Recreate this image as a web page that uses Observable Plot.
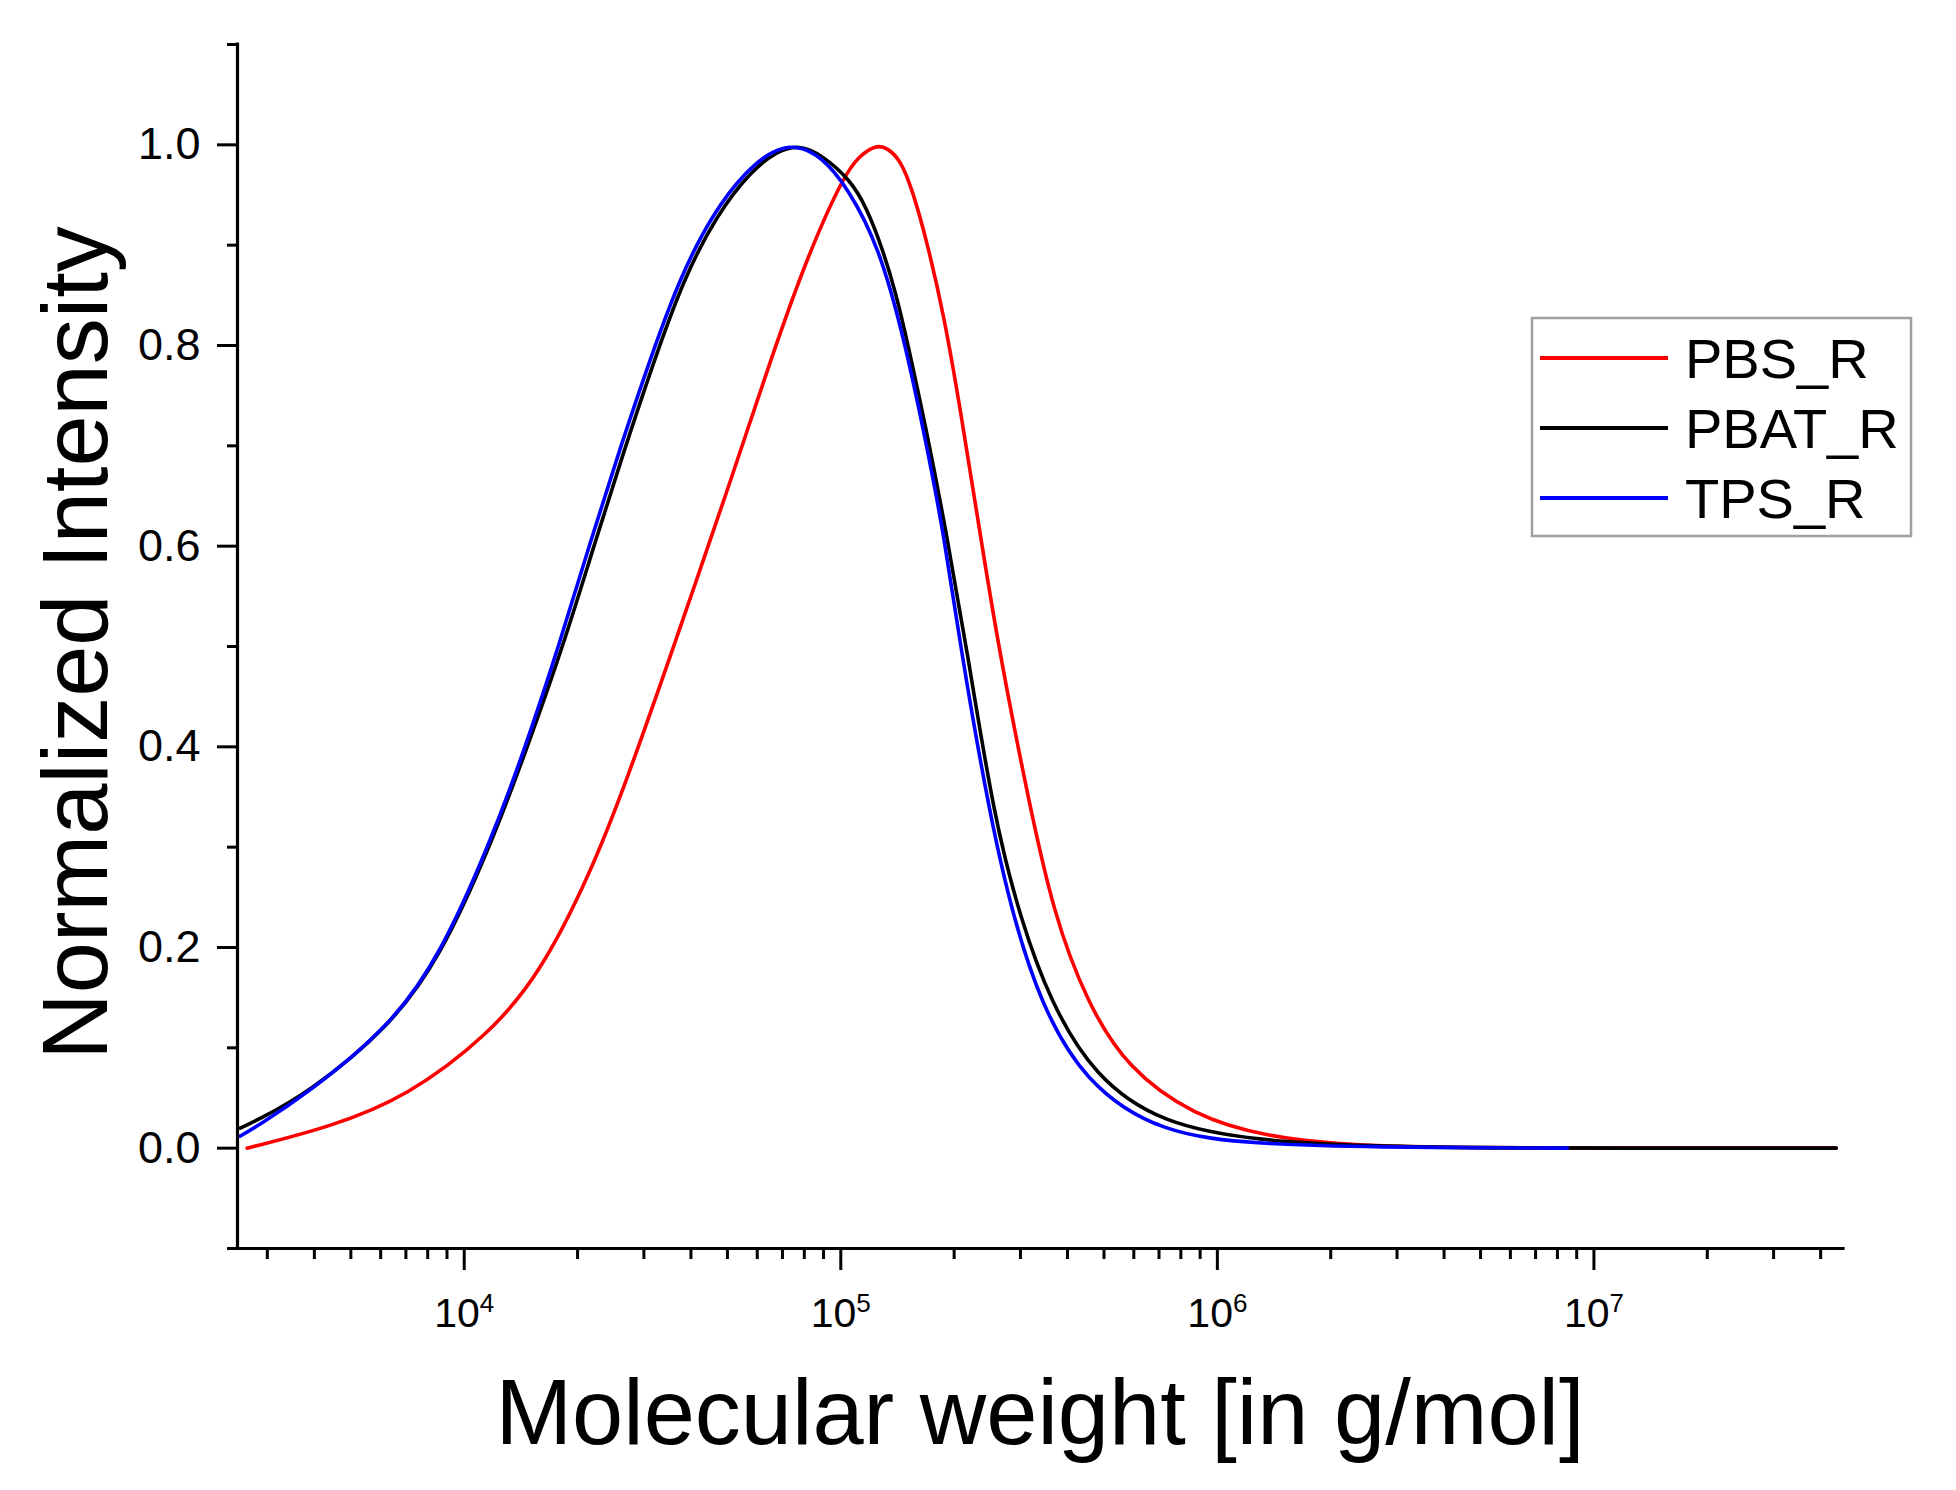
<!DOCTYPE html>
<html>
<head>
<meta charset="utf-8">
<script src="https://cdn.jsdelivr.net/npm/d3@7"></script>
<script src="https://cdn.jsdelivr.net/npm/@observablehq/plot@0.6"></script>
<style>
  html, body { margin: 0; padding: 0; background: #fff; }
  #chart svg { display: block; }
</style>
</head>
<body>
<div id="chart"></div>
<script>
// Molecular weight distributions (g/mol) and normalized GPC intensity
const seriesNames = ["PBS_R", "PBAT_R", "TPS_R"];
const seriesColors = ["#ff0000", "#000000", "#0000ff"];

const pbsMw = [2650, 4400, 7050, 11700, 15900, 21600, 27000, 36000, 51000, 65000, 81300,
  102000, 112000, 124000, 133000, 144000, 155000, 169000, 188000, 208000, 230000, 261000,
  313000, 368000, 451000, 575000, 865000, 1.36e6, 2.24e6, 3.98e6, 4.4e7];
const pbsVal = [0.000, 0.021, 0.051, 0.114, 0.174, 0.273, 0.366, 0.500, 0.665, 0.785, 0.888,
  0.970, 0.989, 1.000, 0.997, 0.985, 0.955, 0.905, 0.830, 0.735, 0.632, 0.503,
  0.352, 0.232, 0.145, 0.080, 0.032, 0.011, 0.003, 0.000, 0.000];

const pbatMw = [2540, 2820, 3820, 6350, 8630, 11700, 14400, 18300, 22000, 26400, 31800, 38200,
  46800, 57500, 67600, 77600, 89100, 106000, 117000, 130000, 140000, 150000, 169000, 191000,
  216000, 255000, 300000, 361000, 470000, 708000, 1.30e6, 2.51e6, 5.01e6, 4.4e7];
const pbatVal = [0.020, 0.028, 0.054, 0.121, 0.190, 0.300, 0.390, 0.500, 0.598, 0.692, 0.783, 0.866,
  0.930, 0.973, 0.994, 1.000, 0.990, 0.965, 0.938, 0.893, 0.852, 0.805, 0.715, 0.612,
  0.498, 0.330, 0.228, 0.145, 0.072, 0.024, 0.007, 0.002, 0.000, 0.000];

const tpsMw = [2540, 2820, 3820, 6350, 8630, 11700, 14400, 18000, 21600, 25900, 31200, 37500,
  45900, 56400, 66100, 76600, 89100, 104000, 126000, 147000, 166000, 188000, 208000, 249000,
  288000, 339000, 442000, 708000, 1.30e6, 2.51e6, 8.5e6];
const tpsVal = [0.012, 0.022, 0.054, 0.121, 0.192, 0.304, 0.395, 0.505, 0.604, 0.697, 0.787, 0.869,
  0.933, 0.975, 0.995, 1.000, 0.988, 0.958, 0.900, 0.808, 0.715, 0.612, 0.498, 0.330,
  0.228, 0.145, 0.066, 0.014, 0.004, 0.001, 0.000];

// Axis ticks and labels
const xDomain = [2500, 4.6e7];
const yDomain = [-0.1, 1.1];
const xMajor = [1e4, 1e5, 1e6, 1e7];
const xMajorLabels = ["10|4", "10|5", "10|6", "10|7"];
const yMajor = [0, 0.2, 0.4, 0.6, 0.8, 1.0];
const yMinor = [-0.1, 0.1, 0.3, 0.5, 0.7, 0.9, 1.1];

const xMinor = [];
for (let k = 3; k <= 7; k++) {
  for (let m = 2; m <= 9; m++) {
    const v = m * 10 ** k;
    if (v >= xDomain[0] && v <= xDomain[1]) xMinor.push(v);
  }
}

const toRows = (mw, val) => mw.map((m, i) => ({mw: m, v: val[i]}));
const pbs = toRows(pbsMw, pbsVal);
const pbat = toRows(pbatMw, pbatVal);
const tps = toRows(tpsMw, tpsVal);

const FONT = "Arial, 'Liberation Sans', sans-serif";
const W = 1956, H = 1490;
const CURVE = "basis";
const LINE_W = 3.6;

const chart = Plot.plot({
  width: W,
  height: H,
  marginLeft: 237,
  marginRight: 113,
  marginTop: 44,
  marginBottom: 242,
  style: {fontFamily: FONT, background: "#fff", color: "#000", overflow: "visible"},
  x: {type: "log", domain: xDomain},
  y: {domain: yDomain},
  marks: [
    Plot.line(pbs, {x: "mw", y: "v", stroke: seriesColors[0], strokeWidth: LINE_W, curve: CURVE}),
    Plot.line(pbat, {x: "mw", y: "v", stroke: seriesColors[1], strokeWidth: LINE_W, curve: CURVE}),
    Plot.line(tps, {x: "mw", y: "v", stroke: seriesColors[2], strokeWidth: LINE_W, curve: CURVE}),
    Plot.axisX(xMajor, {
      tickSize: 22, tickPadding: 27, fontSize: 41, strokeWidth: 3, label: null,
      tickFormat: (d) => xMajorLabels[xMajor.indexOf(d)]
    }),
    Plot.axisX(xMinor, {tickSize: 11, strokeWidth: 3, label: null, tickFormat: () => ""}),
    Plot.axisY(yMajor, {
      tickSize: 20, tickPadding: 17, fontSize: 45, strokeWidth: 3, label: null,
      tickFormat: d3.format(".1f")
    }),
    Plot.axisY(yMinor, {tickSize: 10, strokeWidth: 3, label: null, tickFormat: () => ""}),
    Plot.ruleX([xDomain[0]], {stroke: "#000", strokeWidth: 3.2, strokeLinecap: "square"}),
    Plot.ruleY([yDomain[0]], {stroke: "#000", strokeWidth: 3.2, strokeLinecap: "square"})
  ]
});

document.getElementById("chart").appendChild(chart);

const svg = d3.select(chart);

// Power-of-ten labels: base with a raised exponent
svg.selectAll('g[aria-label="x-axis tick label"] text').each(function () {
  const parts = (this.textContent || "").split("|");
  if (parts.length !== 2) return;
  const t = d3.select(this);
  t.text(null);
  t.append("tspan").text(parts[0]);
  t.append("tspan").attr("font-size", 26).attr("dy", -15).text(parts[1]);
});

// Axis titles
svg.append("text")
  .attr("transform", "translate(107,643) rotate(-90)")
  .attr("text-anchor", "middle")
  .attr("font-family", FONT)
  .attr("font-size", 92)
  .attr("fill", "#000")
  .text("Normalized Intensity");

svg.append("text")
  .attr("x", 1040)
  .attr("y", 1444)
  .attr("text-anchor", "middle")
  .attr("font-family", FONT)
  .attr("font-size", 92)
  .attr("fill", "#000")
  .text("Molecular weight [in g/mol]");

// Legend box
const legend = svg.append("g").attr("font-family", FONT).attr("text-anchor", "start");
legend.append("rect")
  .attr("x", 1532).attr("y", 318).attr("width", 379).attr("height", 218)
  .attr("fill", "#fff").attr("stroke", "#a0a0a0").attr("stroke-width", 2.5);
seriesNames.forEach((name, i) => {
  const y = 358 + i * 70;
  legend.append("line")
    .attr("x1", 1540).attr("x2", 1668).attr("y1", y).attr("y2", y)
    .attr("stroke", seriesColors[i]).attr("stroke-width", 4);
  legend.append("text")
    .attr("x", 1685).attr("y", y + 20)
    .attr("text-anchor", "start")
    .attr("font-size", 56).attr("fill", "#000")
    .text(name);
});
</script>
</body>
</html>
